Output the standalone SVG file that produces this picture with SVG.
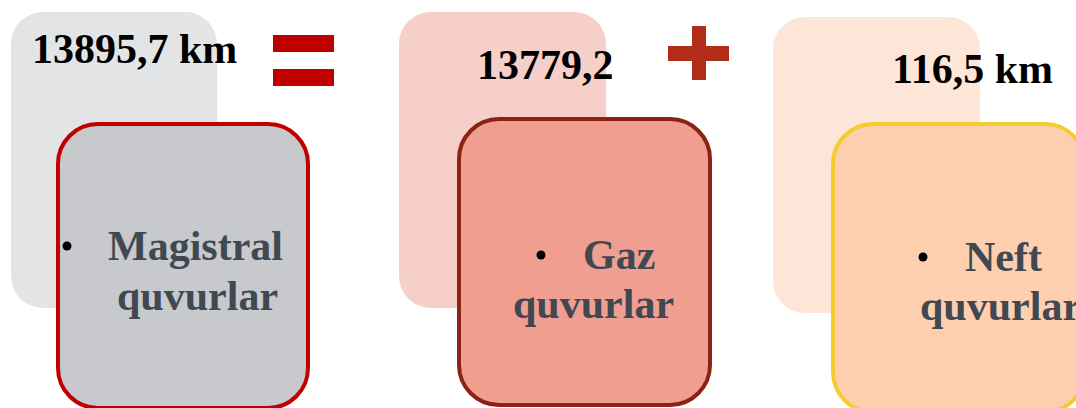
<svg xmlns="http://www.w3.org/2000/svg" width="1076" height="408" viewBox="0 0 1076 408">
<style>
.num{font-family:"Liberation Serif","Times New Roman",serif;font-weight:bold;font-size:42px;fill:#000}
.lbl{font-family:"Liberation Serif","Times New Roman",serif;font-weight:bold;font-size:42px;fill:#404852}
.bul{fill:#000}
.front{stroke-width:4}
</style>
<rect width="1076" height="408" fill="#fff"/>
<g id="node-total">
<rect x="11" y="12" width="206" height="296" rx="32" fill="#e3e4e6"/>
<text class="num" x="32" y="63">13895,7 km</text>
<rect class="front" x="58" y="124" width="250" height="284" rx="40" fill="#c8c9cd" stroke="#c00000"/>
<circle class="bul" cx="67" cy="246" r="4.5"/>
<text class="lbl" x="108" y="260">Magistral</text>
<text class="lbl" x="117" y="310">quvurlar</text>
</g>
<g id="node-gas">
<rect x="399" y="12" width="207" height="296" rx="32" fill="#f6cfc9"/>
<text class="num" x="477" y="79">13779,2</text>
<rect class="front" x="459" y="119" width="251" height="286" rx="40" fill="#f09e90" stroke="#8b2214"/>
<circle class="bul" cx="541" cy="255" r="4.5"/>
<text class="lbl" x="583" y="269">Gaz</text>
<text class="lbl" x="513" y="318">quvurlar</text>
</g>
<g id="node-oil">
<rect x="773" y="17" width="207" height="296" rx="32" fill="#fde6d8"/>
<text class="num" x="892" y="83">116,5 km</text>
<rect class="front" x="833" y="124" width="252" height="288" rx="40" fill="#fecfae" stroke="#f5cb30"/>
<circle class="bul" cx="923" cy="257" r="4.5"/>
<text class="lbl" x="965" y="271">Neft</text>
<text class="lbl" x="920" y="320">quvurlar</text>
</g>
<g id="connectors">
<g id="equals" fill="#c00000">
<rect x="273" y="35" width="61" height="17"/>
<rect x="273" y="69" width="61" height="17"/>
</g>
<g id="plus" fill="#b22c1a">
<rect x="692" y="26" width="14" height="54"/>
<rect x="668" y="46" width="61" height="15"/>
</g>
</g>
</svg>
